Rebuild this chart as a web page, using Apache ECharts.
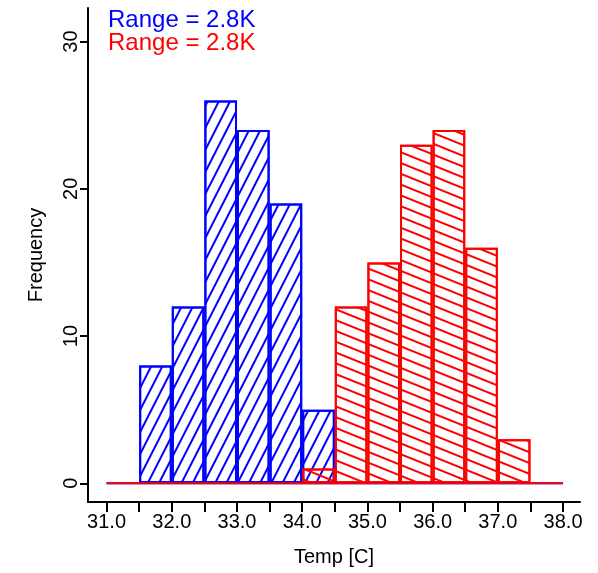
<!DOCTYPE html>
<html><head><meta charset="utf-8">
<script src="https://cdn.jsdelivr.net/npm/echarts@6/dist/echarts.min.js"></script>
<style>html,body{margin:0;padding:0;background:#fff}#c{width:598px;height:573px}</style>
</head><body><div id="c"></div>
<script>
// ---- data ----
const breaks = [31.0, 31.5, 32.0, 32.5, 33.0, 33.5, 34.0, 34.5, 35.0, 35.5, 36.0, 36.5, 37.0, 37.5, 38.0];
const blueCounts = [0, 8, 12, 26, 24, 19, 5, 0, 0, 0, 0, 0, 0, 0];
const redCounts  = [0, 0, 0, 0, 0, 0, 1, 12, 15, 23, 24, 16, 3, 0];
const xTickValues = [31.0, 31.5, 32.0, 32.5, 33.0, 33.5, 34.0, 34.5, 35.0, 35.5, 36.0, 36.5, 37.0, 37.5, 38.0];
const xLabelValues = [31.0, 32.0, 33.0, 34.0, 35.0, 36.0, 37.0, 38.0];
const yTickValues = [0, 10, 20, 30];
const legendTexts = ['Range = 2.8K', 'Range = 2.8K'];
const xTitle = 'Temp [C]';
const yTitle = 'Frequency';

// ---- layout / style ----
const FONT = "'Liberation Sans', Arial, Helvetica, sans-serif";
const grid = { left: 88, right: 18, top: 8, bottom: 71 };
const xMin = 30.715, xMax = 38.26, yMin = -1.27, yMax = 32.28;
const plotW = 598 - grid.left - grid.right;
const binW = breaks[1] - breaks[0];
const barPx = plotW / (xMax - xMin) * binW;

function barData(counts) {
  const out = [];
  counts.forEach((c, i) => { if (c > 0) out.push([(breaks[i] + breaks[i + 1]) / 2, c]); });
  return out;
}
function hist(name, counts, color, angleDeg) {
  return [
    { type: 'line', data: [[breaks[0], 0], [breaks[breaks.length - 1], 0]], showSymbol: false,
      lineStyle: { color: color, width: 2 }, silent: true, animation: false },
    { type: 'bar', name: name, data: barData(counts), barWidth: barPx, barGap: '-100%',
      itemStyle: { color: 'rgba(0,0,0,0)', borderColor: color, borderWidth: 2,
        decal: { symbol: 'rect', symbolSize: 1, dashArrayX: [1, 0], dashArrayY: [2, 7.5],
          rotation: angleDeg * Math.PI / 180, color: color, backgroundColor: null } },
      animation: false, silent: true }
  ];
}

const chart = echarts.init(document.getElementById('c'), null, { renderer: 'canvas' });
chart.setOption({
  backgroundColor: '#fff',
  animation: false,
  grid: grid,
  textStyle: { fontFamily: FONT },
  xAxis: {
    type: 'value', min: xMin, max: xMax,
    name: xTitle, nameLocation: 'middle', nameGap: 45,
    nameTextStyle: { fontFamily: FONT, fontSize: 20, color: '#000' },
    axisLine: { onZero: false, lineStyle: { color: '#000', width: 2 } },
    axisTick: { show: true, length: 10, inside: false, customValues: xTickValues, lineStyle: { color: '#000', width: 2 } },
    axisLabel: { customValues: xLabelValues, margin: 10, fontFamily: FONT, fontSize: 20, color: '#000',
      formatter: v => Number(v).toFixed(1) },
    splitLine: { show: false }
  },
  yAxis: {
    type: 'value', min: yMin, max: yMax,
    name: yTitle, nameLocation: 'middle', nameGap: 42, nameRotate: 90,
    nameTextStyle: { fontFamily: FONT, fontSize: 20, color: '#000' },
    axisLine: { show: true, onZero: false, lineStyle: { color: '#000', width: 2 } },
    axisTick: { show: true, length: 8, customValues: yTickValues, lineStyle: { color: '#000', width: 2 } },
    axisLabel: { customValues: yTickValues, rotate: 90, margin: 7, fontFamily: FONT, fontSize: 20, color: '#000' },
    splitLine: { show: false }
  },
  graphic: [
    { type: 'text', left: 108, top: 8, style: { text: legendTexts[0], fill: '#0000ff', font: '24px ' + FONT } },
    { type: 'text', left: 108, top: 31, style: { text: legendTexts[1], fill: '#ff0000', font: '24px ' + FONT } }
  ],
  series: [].concat(hist('blue', blueCounts, '#0000ff', -63), hist('red', redCounts, '#ff0000', 22))
});
</script>
</body></html>
